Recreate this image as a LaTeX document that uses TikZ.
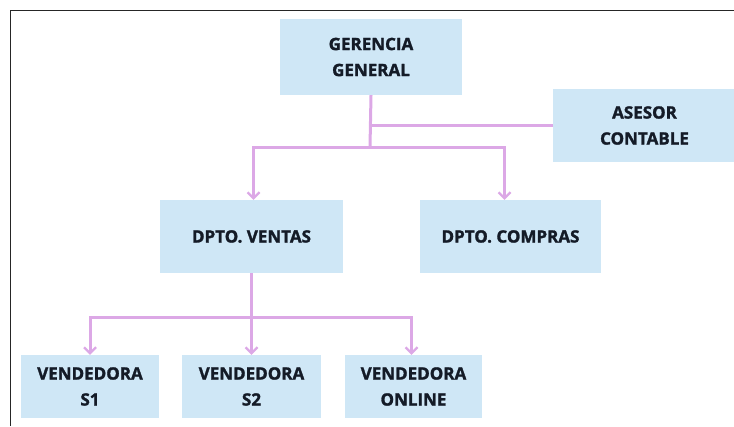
\documentclass[tikz,border=0pt]{standalone}
\usepackage{fontspec}
\setmainfont{Open Sans}[BoldFeatures={FakeBold=1.6}]
\usetikzlibrary{arrows.meta}
\definecolor{boxblue}{HTML}{CFE7F6}
\definecolor{linkpink}{HTML}{DCA8E6}
\definecolor{textnavy}{HTML}{141B27}
\tikzset{
	unit/.style={fill=boxblue,text=textnavy,align=center,inner sep=0pt,font=\fontsize{17}{26}\selectfont\bfseries},
	link/.style={draw=linkpink,line width=3pt},
	tip/.style={-{Straight Barb[length=6pt,width=12pt,line width=2.2pt]}}
}
\begin{document}
\begin{tikzpicture}[x=1pt,y=-1pt]
			\useasboundingbox (0,0) rectangle (734,426);
			\draw [line width=1.4pt,black!85] (10.5,426) -- (10.5,10.5) -- (734,10.5);
			\node[unit,minimum width=182,minimum height=76] (gg) at (371,57) {GERENCIA\\GENERAL};
			\node[unit,minimum width=183,minimum height=73] (asesor) at (644.5,125.5) {ASESOR\\CONTABLE};
			\node[unit,minimum width=183,minimum height=73] (ventas) at (251.5,236.5) {DPTO. VENTAS};
			\node[unit,minimum width=181,minimum height=73] (compras) at (510.5,236.5) {DPTO. COMPRAS};
			\node[unit,minimum width=138,minimum height=63] (s1) at (90,386.5) {VENDEDORA\\S1};
			\node[unit,minimum width=139,minimum height=63] (s2) at (251.5,386.5) {VENDEDORA\\S2};
			\node[unit,minimum width=137,minimum height=63] (online) at (413.5,386.5) {VENDEDORA\\ONLINE};
			\coordinate (top bus) at (370,147);
			\coordinate (low bus) at (251.5,317);
			\draw [link] (gg.south) to (top bus);
			\draw [link] (top bus |- asesor.west) to (asesor.west);
			\draw [link,tip] (top bus) -| ([xshift=2]ventas.north);
			\draw [link,tip] (top bus) -| ([xshift=-6]compras.north);
			\draw [link,tip] (ventas.south) to (s2.north);
			\draw [link,tip] (low bus) -| (s1.north);
			\draw [link,tip] (low bus) -| ([xshift=-2]online.north);
		\end{tikzpicture}
\end{document}
